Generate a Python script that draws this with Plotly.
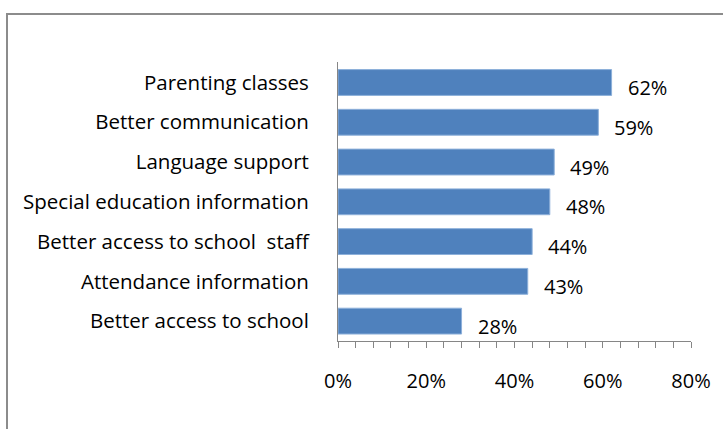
import plotly.graph_objects as go

categories = [
    "Parenting classes",
    "Better communication",
    "Language support",
    "Special education information",
    "Better access to school  staff",
    "Attendance information",
    "Better access to school",
]
percents = [0.62, 0.59, 0.49, 0.48, 0.44, 0.43, 0.28]
x_ticks = [0, 0.2, 0.4, 0.6, 0.8]
x_tick_labels = ["0%", "20%", "40%", "60%", "80%"]

W, H = 723, 429
L, R, T, B = 338, 32, 62, 88
font = "Open Sans, sans-serif"

fig = go.Figure(
    go.Bar(
        x=percents,
        y=categories,
        orientation="h",
        marker_color="#4F81BD",
        marker_line=dict(color="#8DB0DA", width=1),
    )
)

for cat, val in zip(categories, percents):
    fig.add_annotation(
        x=val,
        y=cat,
        text=f"{round(val * 100)}%",
        showarrow=False,
        xanchor="left",
        xshift=14,
        yshift=-5,
        font=dict(family=font, size=20, color="black"),
    )

# outer chart-area frame
pw, ph = W - L - R, H - T - B
fig.add_shape(
    type="rect",
    xref="paper",
    yref="paper",
    x0=(7 - L) / pw,
    x1=(W + 10 - L) / pw,
    y0=-(H + 10 - T - ph) / ph,
    y1=1 + (T - 14) / ph,
    line=dict(color="#8C8C8C", width=2),
    layer="below",
)

fig.update_layout(
    width=W,
    height=H,
    margin=dict(l=L, r=R, t=T, b=B),
    paper_bgcolor="white",
    plot_bgcolor="white",
    showlegend=False,
    bargap=0.35,
    font=dict(family=font, size=20, color="black"),
)
fig.update_xaxes(
    range=[0, 0.8],
    tickvals=x_ticks,
    ticktext=x_tick_labels,
    showgrid=False,
    zeroline=False,
    showline=True,
    linecolor="#868686",
    linewidth=1,
    ticks="outside",
    ticklen=6,
    tickcolor="#868686",
    ticklabelstandoff=16,
    minor=dict(dtick=0.04, ticks="outside", ticklen=6, tickcolor="#868686"),
)
fig.update_yaxes(
    autorange="reversed",
    showgrid=False,
    showline=True,
    linecolor="#868686",
    linewidth=1,
    ticks="",
    ticklabelstandoff=24,
    tickfont=dict(size=20.5),
)

fig.write_html(
    "out.html",
    config={"displayModeBar": False},
    post_script="document.body.style.margin='0';",
)
